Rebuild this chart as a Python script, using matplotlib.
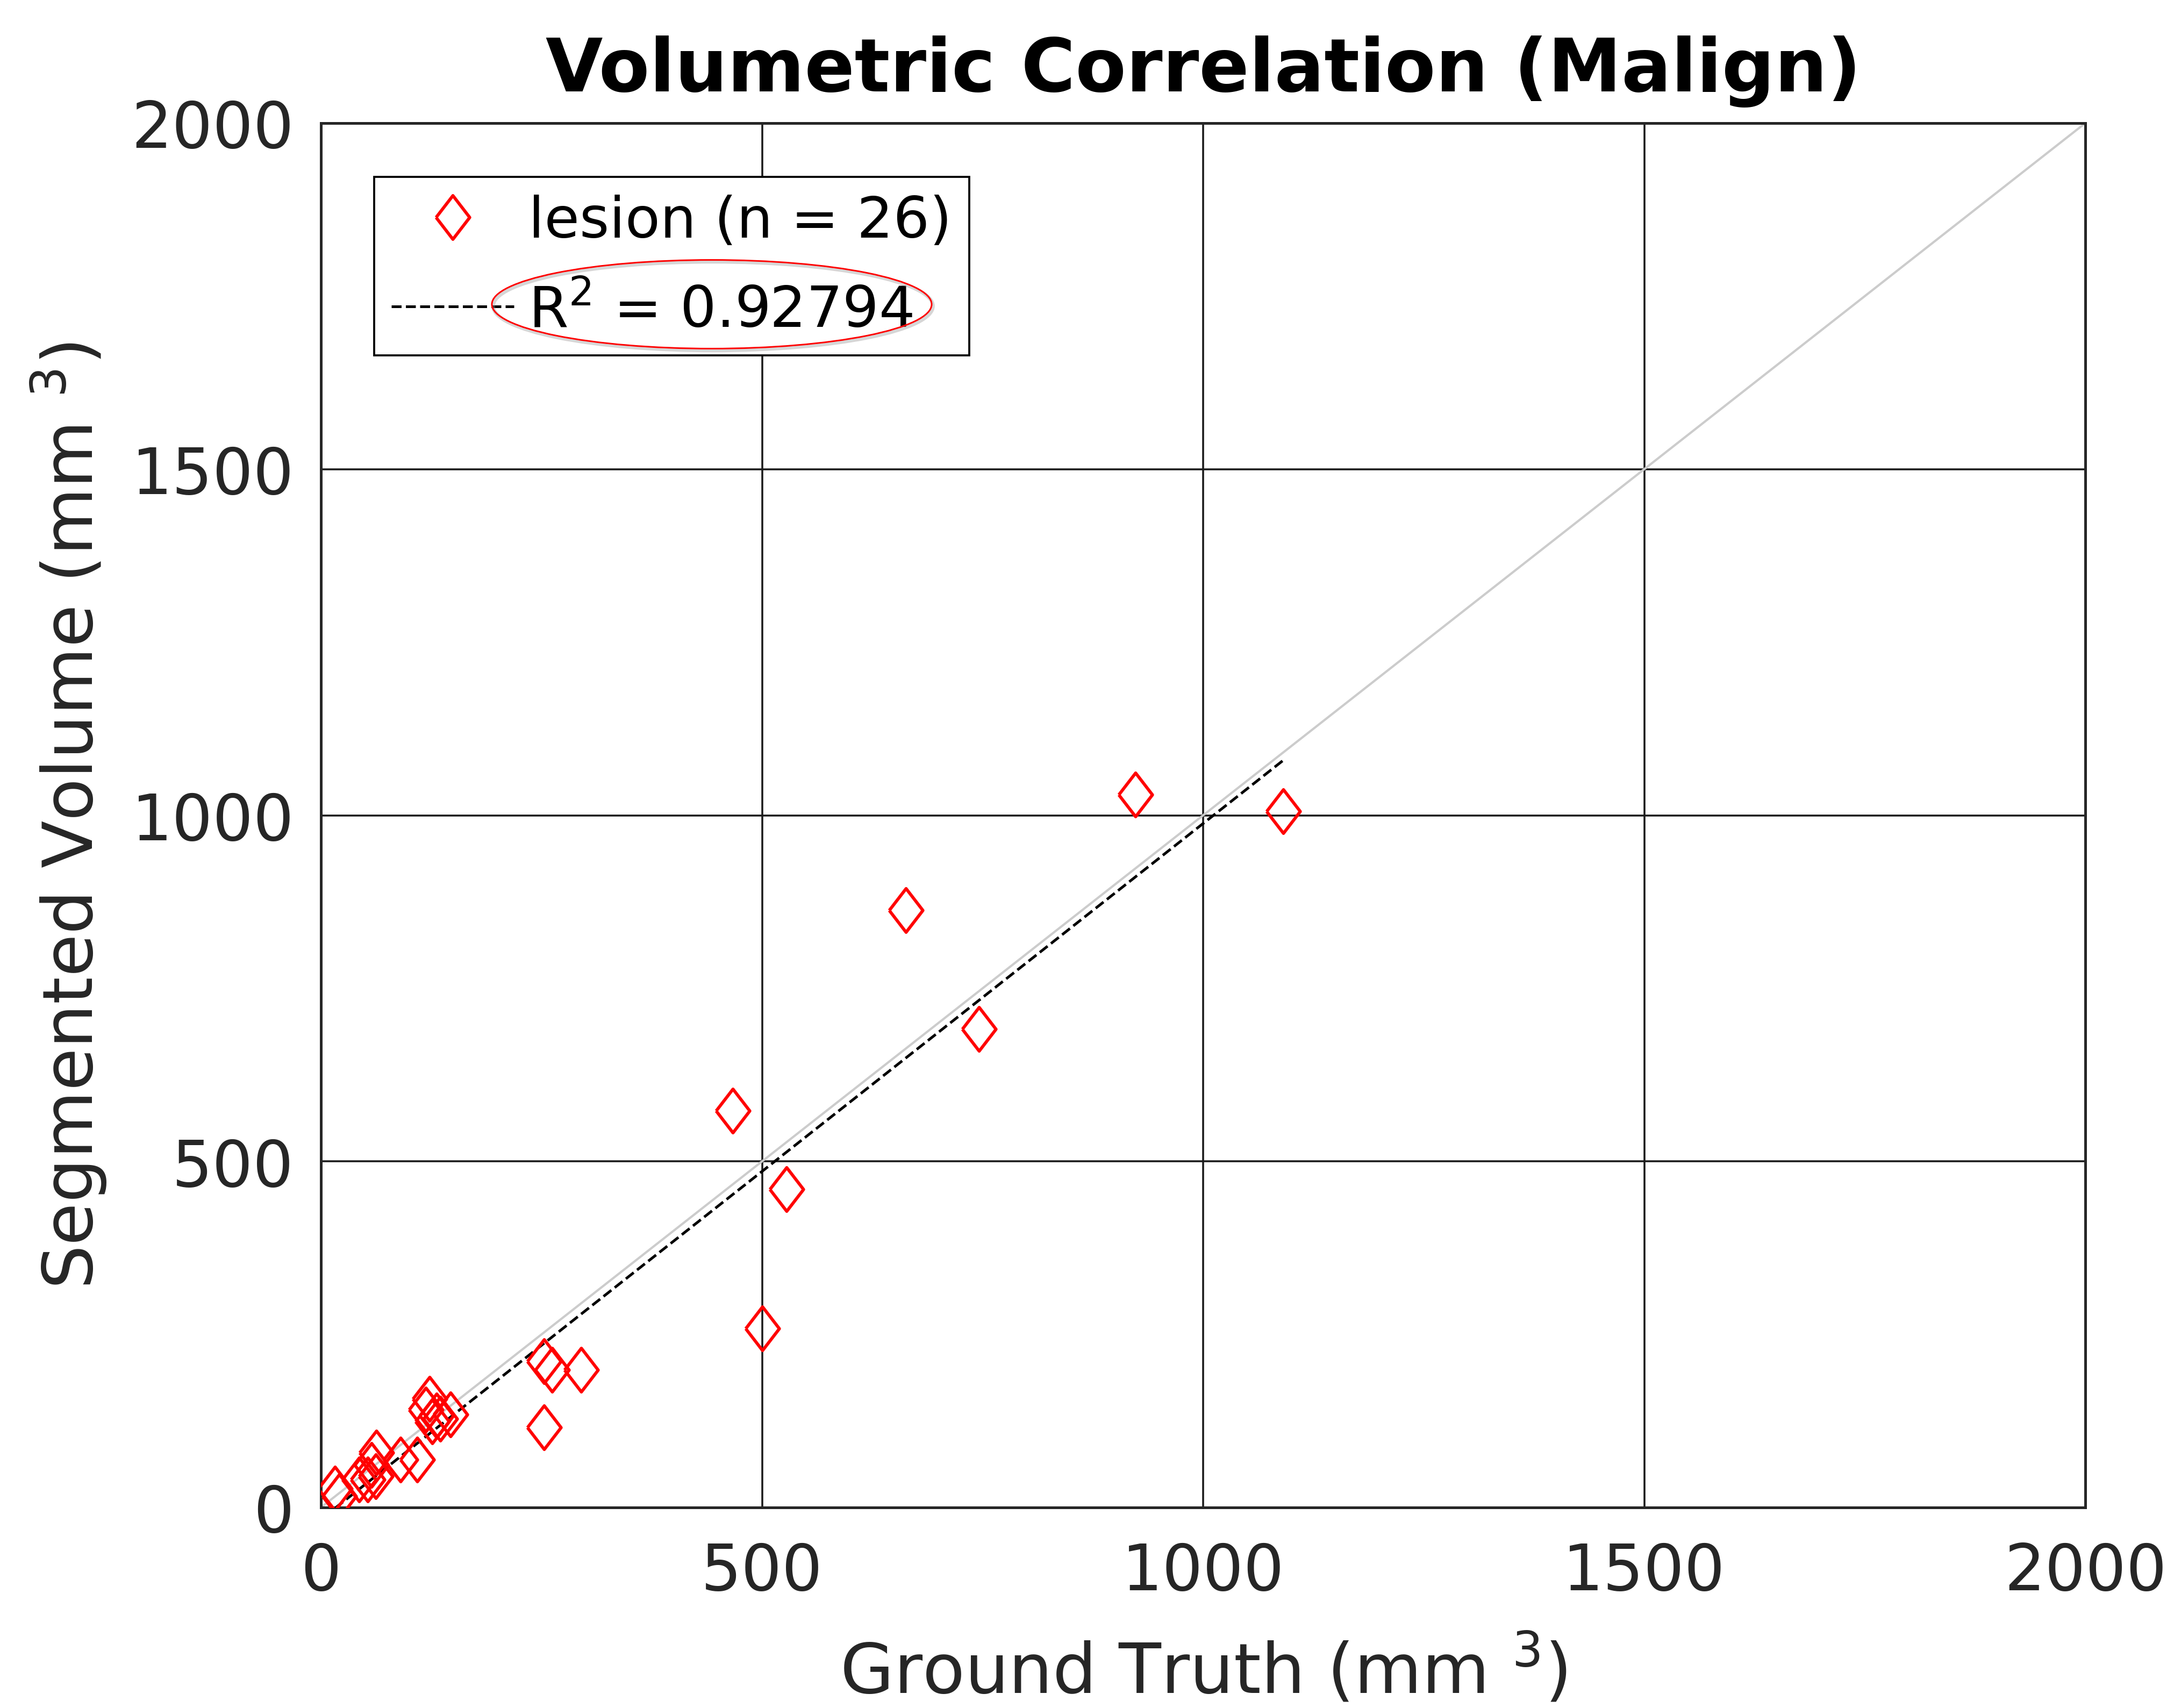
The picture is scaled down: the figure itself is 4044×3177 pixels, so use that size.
import numpy as np
import matplotlib
matplotlib.use("Agg")
import matplotlib.pyplot as plt
from matplotlib.patches import Ellipse

# volumes (mm^3)
ground_truth = [923, 1091, 663, 746, 467, 528, 500,
                253, 295, 253, 262,
                123, 119, 131, 147, 126, 135,
                63, 57, 62, 43, 53, 90, 109,
                16, 21]
segmented = [1030, 1006, 863, 691, 573, 460, 259,
             116, 199, 211, 199,
             157, 141, 133, 134, 124, 128,
             79, 61, 45, 40, 40, 69, 69,
             27, 16]
r_squared = "0.92794"
axis_ticks = [0, 500, 1000, 1500, 2000]

plt.rcParams["font.family"] = ["DejaVu Sans"]
plt.rcParams["mathtext.fontset"] = "dejavusans"

fig = plt.figure(figsize=(13.48, 10.5933), dpi=300)
ax = fig.add_axes([0.14763, 0.11737, 0.81157, 0.81026])

# grid and identity line
ax.grid(True, color="#1a1a1a", linewidth=0.85)
ax.set_axisbelow(True)
ax.plot([axis_ticks[0], axis_ticks[-1]], [axis_ticks[0], axis_ticks[-1]],
        color="#cccccc", linewidth=1.0, zorder=2)

# lesions
diamond = [(-0.77, 0), (0, 1), (0.77, 0), (0, -1), (-0.77, 0)]
ax.plot(ground_truth, segmented, linestyle="none", marker=diamond, markersize=19.5,
        markerfacecolor="none", markeredgecolor="red", markeredgewidth=1.4,
        label=f"lesion (n = {len(ground_truth)})", zorder=4)

# linear fit
coef = np.polyfit(ground_truth, segmented, 1)
xs = np.array([min(ground_truth), max(ground_truth)])
ax.plot(xs, np.polyval(coef, xs), color="black", linestyle="--", linewidth=1.2,
        label=r"$\mathregular{R}^2$ = " + r_squared, zorder=3)

ax.set_xlim(axis_ticks[0], axis_ticks[-1])
ax.set_ylim(axis_ticks[0], axis_ticks[-1])
ax.set_xticks(axis_ticks)
ax.set_yticks(axis_ticks)
ax.tick_params(length=0, pad=12, labelsize=28.5, labelcolor="#262626")
ax.tick_params(axis="x", pad=15)
for sp in ax.spines.values():
    sp.set_color("#262626")
    sp.set_linewidth(1.2)

ax.set_xlabel("Ground Truth (mm $^3$)", fontsize=31, color="#262626", labelpad=13)
ax.set_ylabel("Segmented Volume (mm $^3$)", fontsize=31, color="#262626", labelpad=10)
ax.set_title("Volumetric Correlation (Malign)", fontsize=33, fontweight="bold", pad=14.5)

leg = ax.legend(loc="upper left", bbox_to_anchor=(0.0302, 0.9612), borderaxespad=0,
                fontsize=25.5, frameon=True, fancybox=False, edgecolor="black",
                framealpha=1, borderpad=0.3, handlelength=2.15, handletextpad=0.25,
                labelspacing=0.6)
leg.get_frame().set_linewidth(0.9)
for t in leg.get_texts():
    t.set_color("black")

# highlight round the R^2 entry
fig.add_artist(Ellipse((0.3280, 0.8205), 0.2023, 0.0519, transform=fig.transFigure,
                       fill=False, edgecolor="#999999", alpha=0.4, linewidth=1.6, zorder=9))
fig.add_artist(Ellipse((0.3274, 0.8216), 0.2023, 0.0519, transform=fig.transFigure,
                       fill=False, edgecolor="red", linewidth=0.7, zorder=10))

fig.savefig("out.png", dpi=300)
